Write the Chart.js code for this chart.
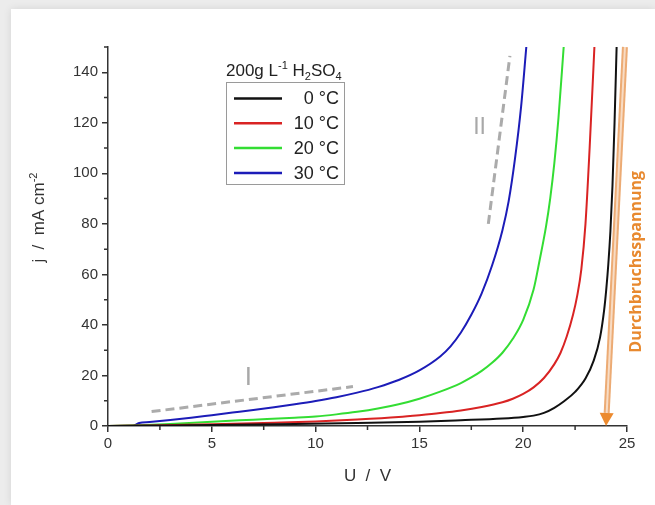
<!DOCTYPE html>
<html><head><meta charset="utf-8">
<script src="https://cdn.jsdelivr.net/npm/chart.js@4/dist/chart.umd.min.js"></script>
<style>
html,body{margin:0;padding:0;width:655px;height:505px;overflow:hidden;background:#ececec;}
#card{position:absolute;left:11px;top:9px;right:0;bottom:0;background:#fff;box-shadow:0 0 8px rgba(0,0,0,0.10);}
#wrap{position:absolute;left:0;top:0;width:655px;height:505px;}
</style></head><body>
<div id="card"></div>
<div id="wrap"><canvas id="c" width="655" height="505"></canvas></div>
<script>
// ---- data ----
const seriesLabels = ['0 °C', '10 °C', '20 °C', '30 °C'];
const seriesColors = ['#111111', '#d92323', '#33dd33', '#1c1cb8'];

const u0  = [0, 3, 6, 9, 12, 15, 17, 19, 20, 20.5, 21, 21.5, 22, 22.5, 23, 23.4, 23.7, 23.9, 24.0, 24.1, 24.2, 24.3, 24.4, 24.5];
const j0  = [0, 0.2, 0.5, 0.8, 1.2, 1.7, 2.3, 3.0, 3.6, 4.1, 5.2, 7.2, 10, 13.5, 18.8, 26, 35, 46, 54, 64, 77, 95, 120, 150];

const u10 = [0, 2, 5, 8, 10, 12, 14, 15, 16, 17, 18, 19, 19.5, 20, 20.5, 21, 21.5, 21.8, 22.1, 22.4, 22.6, 22.8, 23, 23.2, 23.43];
const j10 = [0, 0.2, 0.7, 1.3, 1.8, 2.6, 3.6, 4.3, 5.1, 6.1, 7.5, 9.4, 10.8, 12.7, 15.3, 19, 24.5, 29, 35.5, 44, 51.5, 62, 80, 110, 150];

const u20 = [0, 1.5, 3, 5, 7, 9, 10, 11, 12, 13, 14, 15, 16, 17, 17.5, 18, 18.5, 19, 19.5, 20, 20.5, 20.8, 21.1, 21.3, 21.5, 21.7, 21.95];
const j20 = [0, 0.3, 0.8, 1.7, 2.5, 3.3, 3.8, 4.6, 5.6, 6.9, 8.6, 10.8, 13.6, 17, 19.2, 21.8, 25, 29, 34.5, 42, 54, 66, 79, 90, 104, 122, 150];

const u30 = [0, 1.2, 1.5, 2, 3, 4, 5, 6, 7, 8, 9, 10, 11, 12, 13, 14, 15, 16, 16.5, 17, 17.5, 18, 18.5, 19, 19.3, 19.6, 19.9, 20.15];
const j30 = [0, 0, 1.2, 1.6, 2.4, 3.3, 4.3, 5.3, 6.3, 7.4, 8.6, 9.9, 11.4, 13.2, 15.4, 18.2, 22, 27.5, 31.5, 37, 44, 52.5, 63.5, 77.5, 89, 105.5, 126.5, 150];

const xTicks = [0, 5, 10, 15, 20, 25];
const yTicks = [0, 20, 40, 60, 80, 100, 120, 140];
const xMinorTicks = [2.5, 7.5, 12.5, 17.5, 22.5];
const yMinorTicks = [10, 30, 50, 70, 90, 110, 130, 150];

// guide lines and annotations (data units)
const guideIU = [2.1, 11.8];
const guideIj = [5.7, 15.6];
const guideIIU = [18.32, 19.36];
const guideIIj = [80, 146.5];
const labelIPos = [6.76, 19];
const labelIIPos = [17.9, 118];
const arrowU = [24.9, 23.99];
const arrowJ = [150, 0];
const arrowText = 'Durchbruchsspannung';
const arrowTextPos = [25.45, 65];
const yTitlePos = 82.5;

const FONT = '"Liberation Sans", Arial, sans-serif';
const AXIS = '#333333';

function pts(us, js) { return us.map((u, i) => ({ x: u, y: js[i] })); }
const seriesU = [u0, u10, u20, u30];
const seriesJ = [j0, j10, j20, j30];

const datasets = seriesLabels.map((lab, i) => ({
  label: lab,
  data: pts(seriesU[i], seriesJ[i]),
  borderColor: seriesColors[i],
  backgroundColor: seriesColors[i],
  borderWidth: 2,
  pointRadius: 0,
  fill: false,
  cubicInterpolationMode: 'monotone'
}));

function drawRich(ctx, parts, x, y, base) {
  let cx = x;
  for (const [t, m] of parts) {
    const size = m === 'n' ? base : base * 0.65;
    ctx.font = size + 'px ' + FONT;
    const dy = m === 'sup' ? -base * 0.4 : (m === 'sub' ? base * 0.25 : 0);
    ctx.fillText(t, cx, y + dy);
    cx += ctx.measureText(t).width;
  }
  return cx - x;
}
function measureRich(ctx, parts, base) {
  let w = 0;
  for (const [t, m] of parts) {
    const size = m === 'n' ? base : base * 0.65;
    ctx.font = size + 'px ' + FONT;
    w += ctx.measureText(t).width;
  }
  return w;
}

const overlay = {
  id: 'overlay',
  afterDraw(chart) {
    const ctx = chart.ctx;
    const xs = chart.scales.x, ys = chart.scales.y;
    const X = v => xs.getPixelForValue(v), Y = v => ys.getPixelForValue(v);
    ctx.save();

    // minor ticks
    ctx.strokeStyle = AXIS; ctx.lineWidth = 1.5;
    ctx.beginPath();
    for (const v of xMinorTicks) { const px = X(v); ctx.moveTo(px, ys.bottom); ctx.lineTo(px, ys.bottom + 4); }
    for (const v of yMinorTicks) { const py = Y(v); ctx.moveTo(xs.left, py); ctx.lineTo(xs.left - 4, py); }
    ctx.stroke();

    // dashed guide lines
    ctx.strokeStyle = '#ababab'; ctx.lineWidth = 3; ctx.setLineDash([9, 5]);
    ctx.beginPath(); ctx.moveTo(X(guideIU[0]), Y(guideIj[0])); ctx.lineTo(X(guideIU[1]), Y(guideIj[1])); ctx.stroke();
    ctx.beginPath(); ctx.moveTo(X(guideIIU[0]), Y(guideIIj[0])); ctx.lineTo(X(guideIIU[1]), Y(guideIIj[1])); ctx.stroke();
    ctx.setLineDash([]);

    // I and II labels
    ctx.fillStyle = '#a8a8a8'; ctx.textAlign = 'center'; ctx.textBaseline = 'middle';
    ctx.font = '26px ' + FONT;
    ctx.fillText('I', X(labelIPos[0]), Y(labelIPos[1]));
    ctx.font = '23px ' + FONT;
    ctx.fillText('II', X(labelIIPos[0]), Y(labelIIPos[1]));

    // orange arrow
    const x1 = X(arrowU[0]), y1 = Y(arrowJ[0]), x2 = X(arrowU[1]), y2 = Y(arrowJ[1]);
    const ang = Math.atan2(y2 - y1, x2 - x1);
    const head = 13;
    const bx = x2 - Math.cos(ang) * head, by = y2 - Math.sin(ang) * head;
    ctx.lineCap = 'butt';
    ctx.strokeStyle = '#ecab74'; ctx.lineWidth = 6;
    ctx.beginPath(); ctx.moveTo(x1, y1); ctx.lineTo(bx, by); ctx.stroke();
    ctx.strokeStyle = '#f8dcc4'; ctx.lineWidth = 2;
    ctx.beginPath(); ctx.moveTo(x1, y1); ctx.lineTo(bx, by); ctx.stroke();
    ctx.fillStyle = '#ec8a2e';
    const nx = -Math.sin(ang), ny = Math.cos(ang);
    ctx.beginPath();
    ctx.moveTo(x2, y2);
    ctx.lineTo(bx + nx * 7, by + ny * 7);
    ctx.lineTo(bx - nx * 7, by - ny * 7);
    ctx.closePath(); ctx.fill();

    // orange rotated text
    ctx.save();
    ctx.translate(X(arrowTextPos[0]), Y(arrowTextPos[1]));
    ctx.rotate(-Math.PI / 2);
    ctx.fillStyle = '#e8892f';
    ctx.font = 'bold 16px "Open Sans", "Liberation Sans", sans-serif';
    ctx.textAlign = 'center'; ctx.textBaseline = 'middle';
    ctx.fillText(arrowText, 0, 0);
    ctx.restore();

    // y axis title with superscript
    ctx.save();
    ctx.fillStyle = AXIS; ctx.textBaseline = 'alphabetic'; ctx.textAlign = 'left';
    const yParts = [['j  /  mA cm', 'n'], ['-2', 'sup']];
    const w = measureRich(ctx, yParts, 17);
    ctx.translate(44, Y(yTitlePos) + w / 2);
    ctx.rotate(-Math.PI / 2);
    drawRich(ctx, yParts, 0, 0, 17);
    ctx.restore();

    // legend title
    ctx.fillStyle = '#222'; ctx.textAlign = 'left'; ctx.textBaseline = 'alphabetic';
    drawRich(ctx, [['200g L', 'n'], ['-1', 'sup'], [' H', 'n'], ['2', 'sub'], ['SO', 'n'], ['4', 'sub']], 226, 76, 17);

    // legend box
    const bxL = 226, byT = 82, bw = 118, bh = 102;
    ctx.fillStyle = '#fff'; ctx.fillRect(bxL, byT, bw, bh);
    ctx.strokeStyle = '#9a9a9a'; ctx.lineWidth = 1;
    ctx.strokeRect(bxL + 0.5, byT + 0.5, bw, bh);
    chart.data.datasets.forEach((ds, i) => {
      const ry = 98.5 + i * 24.8;
      ctx.strokeStyle = ds.borderColor; ctx.lineWidth = 2.5;
      ctx.beginPath(); ctx.moveTo(234, ry); ctx.lineTo(282, ry); ctx.stroke();
      ctx.fillStyle = '#222'; ctx.font = '18px ' + FONT;
      ctx.textAlign = 'right'; ctx.textBaseline = 'middle';
      ctx.fillText(ds.label, 339, ry + 1);
    });

    ctx.restore();
  }
};

new Chart(document.getElementById('c'), {
  type: 'line',
  data: { datasets },
  options: {
    responsive: false,
    animation: false,
    events: [],
    layout: { padding: { top: 47, right: 28, left: 0, bottom: 0 } },
    plugins: { legend: { display: false }, tooltip: { enabled: false } },
    scales: {
      x: {
        type: 'linear', min: 0, max: 25,
        afterBuildTicks: s => { s.ticks = xTicks.map(v => ({ value: v })); },
        afterFit: s => { s.height = 79; },
        ticks: { color: AXIS, font: { family: FONT, size: 15 }, padding: 3, maxRotation: 0 },
        grid: { drawOnChartArea: false, drawTicks: true, tickLength: 6, color: AXIS, lineWidth: 1.5 },
        border: { display: true, color: AXIS, width: 1.5 },
        title: { display: true, text: 'U  /  V', color: AXIS, font: { family: FONT, size: 17 }, padding: { top: 4, bottom: 18 } }
      },
      y: {
        type: 'linear', min: 0, max: 150,
        afterBuildTicks: s => { s.ticks = yTicks.map(v => ({ value: v })); },
        afterFit: s => { s.width = 108; },
        ticks: { color: AXIS, font: { family: FONT, size: 15 }, padding: 4 },
        grid: { drawOnChartArea: false, drawTicks: true, tickLength: 6, color: AXIS, lineWidth: 1.5 },
        border: { display: true, color: AXIS, width: 1.5 }
      }
    }
  },
  plugins: [overlay]
});
</script>
</body></html>
